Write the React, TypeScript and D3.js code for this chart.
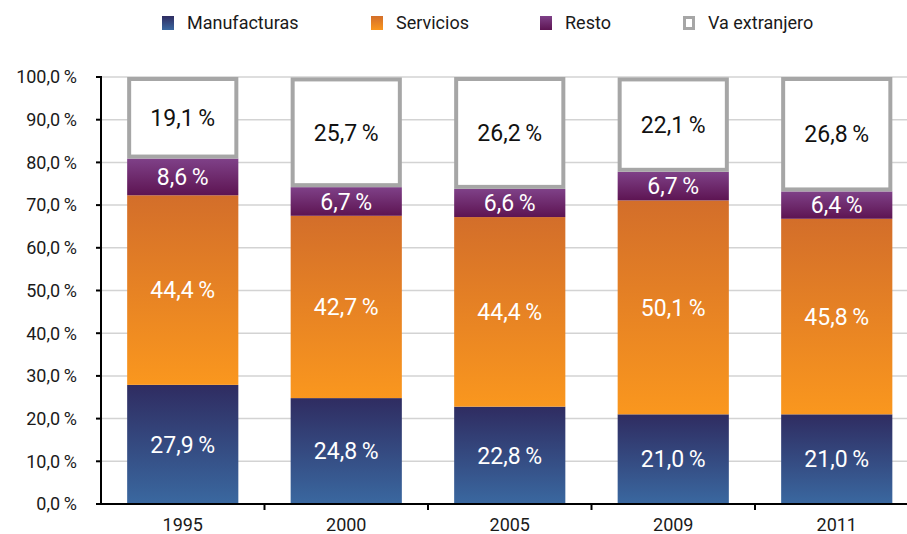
import React from "react";
import * as d3 from "d3";

const years = ["1995", "2000", "2005", "2009", "2011"];
const manufacturas = [27.9, 24.8, 22.8, 21.0, 21.0];
const servicios = [44.4, 42.7, 44.4, 50.1, 45.8];
const resto = [8.6, 6.7, 6.6, 6.7, 6.4];
const vaExtranjero = [19.1, 25.7, 26.2, 22.1, 26.8];
const seriesNames = ["Manufacturas", "Servicios", "Resto", "Va extranjero"];
const yTicks = [0, 10, 20, 30, 40, 50, 60, 70, 80, 90, 100];

const W = 907;
const H = 534;
const FONT = "Roboto, 'Open Sans', sans-serif";

const fmt = (v: number) => v.toFixed(1).replace(".", ",") + "\u2009%";

export default function App() {
  const x = d3.scaleBand<string>().domain(years).range([101, 918.5]).paddingInner(0.32).paddingOuter(0.16);
  const y = d3.scaleLinear().domain([0, 100]).range([504, 77]);
  const series = [manufacturas, servicios, resto, vaExtranjero];
  const stack = d3.stack<number>().keys(["0", "1", "2", "3"]).value((d, key) => series[+key][d]);
  const stacked = stack(years.map((_, i) => i));
  const step = x.step();
  const grads = [
    ["#2F2C61", "#3A68A0"],
    ["#D36E2A", "#FA971E"],
    ["#7F4188", "#5D1452"],
  ];
  const legendX = [162, 371, 540, 683];

  return (
    <svg width={W} height={H} style={{ position: "absolute", left: 0, top: 0, fontFamily: FONT }}>
      <defs>
        {grads.map((g, i) => (
          <linearGradient key={i} id={`g${i}`} x1="0" y1="0" x2="0" y2="1">
            <stop offset="0" stopColor={g[0]} />
            <stop offset="1" stopColor={g[1]} />
          </linearGradient>
        ))}
      </defs>
      <rect x={0} y={0} width={W} height={H} fill="#fff" />
      {yTicks.slice(1).map((t) => (
        <line key={t} x1={101} x2={W} y1={y(t)} y2={y(t)} stroke="#D3D3D3" strokeWidth={1.5} />
      ))}
      {yTicks.map((t) => (
        <g key={t}>
          <line x1={96} x2={101} y1={y(t)} y2={y(t)} stroke="#000" strokeWidth={2} />
          <text x={77} y={y(t)} dy="0.35em" textAnchor="end" fontSize={18} fill="#1a1a1a">
            {t.toFixed(1).replace(".", ",") + "\u2009%"}
          </text>
        </g>
      ))}
      {stacked.map((layer, si) =>
        layer.map((d, i) => {
          const x0 = x(years[i])!;
          const bw = x.bandwidth();
          const y0 = y(d[1]);
          const y1 = y(d[0]);
          const cy = (y0 + y1) / 2;
          const isVa = si === 3;
          return (
            <g key={`${si}-${i}`}>
              {isVa ? (
                <rect x={x0 + 2} y={y0 + 2} width={bw - 4} height={y1 - y0 - 4} fill="#fff" stroke="#A6A6A6" strokeWidth={4} />
              ) : (
                <rect x={x0} y={y0} width={bw} height={y1 - y0} fill={`url(#g${si})`} />
              )}
              <text x={x0 + bw / 2} y={cy} dy="0.36em" textAnchor="middle" fontSize={23} fill={isVa ? "#111" : "#fff"}>
                {fmt(series[si][i])}
              </text>
            </g>
          );
        })
      )}
      <line x1={101} x2={101} y1={76} y2={505} stroke="#000" strokeWidth={2} />
      <line x1={100} x2={W} y1={504} y2={504} stroke="#000" strokeWidth={2} />
      {years.slice(1).map((yr) => (
        <line key={yr} x1={x(yr)! - (step - x.bandwidth()) / 2} x2={x(yr)! - (step - x.bandwidth()) / 2} y1={504} y2={510} stroke="#000" strokeWidth={2} />
      ))}
      {years.map((yr) => (
        <text key={yr} x={x(yr)! + x.bandwidth() / 2} y={525} dy="0.35em" textAnchor="middle" fontSize={18} fill="#1a1a1a">
          {yr}
        </text>
      ))}
      {seriesNames.map((n, i) => (
        <g key={n}>
          {i < 3 ? (
            <rect x={legendX[i]} y={16} width={12} height={14} fill={`url(#g${i})`} />
          ) : (
            <rect x={legendX[i] + 1.5} y={17.5} width={9} height={11} fill="#fff" stroke="#A6A6A6" strokeWidth={3} />
          )}
          <text x={legendX[i] + 25} y={23} dy="0.35em" fontSize={18} fill="#1a1a1a">
            {n}
          </text>
        </g>
      ))}
    </svg>
  );
}
